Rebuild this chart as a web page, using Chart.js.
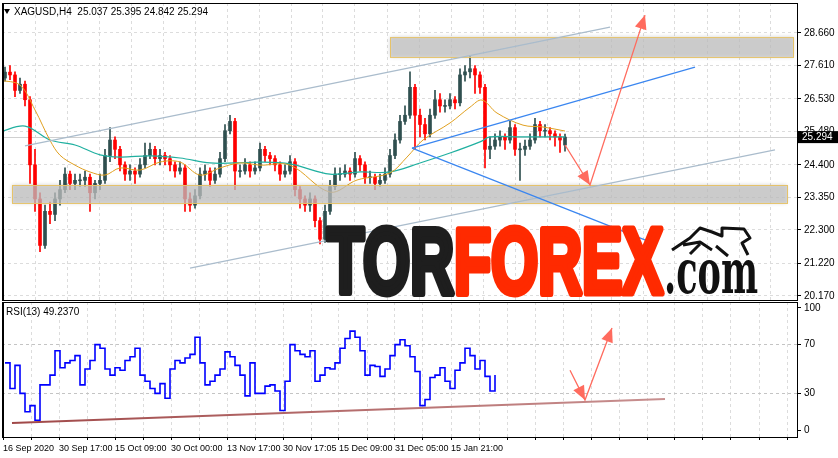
<!DOCTYPE html>
<html><head><meta charset="utf-8">
<script src="https://cdn.jsdelivr.net/npm/chart.js@4.4.1/dist/chart.umd.min.js"></script>
<style>
html,body{margin:0;padding:0;background:#fff;width:838px;height:458px;overflow:hidden}
canvas{position:absolute;left:0}
#c1{top:0}#c2{top:301px}
</style></head><body>
<canvas id="c1" width="838" height="301"></canvas>
<canvas id="c2" width="838" height="157"></canvas>
<script>
// ---- data (bar index i = one H4 sample) ----
const closes=[27.39,27.30,26.80,27.00,26.50,24.40,23.30,21.80,22.90,22.80,
23.30,23.60,24.10,23.80,23.90,23.90,24.00,23.50,23.80,23.90,
24.70,25.20,24.90,24.40,24.10,24.20,24.10,24.40,24.70,24.90,
24.60,24.70,24.60,24.40,24.20,24.30,23.30,23.10,23.40,24.10,
24.20,23.90,24.10,24.60,25.50,25.80,24.20,24.20,24.40,24.20,
24.30,24.90,24.70,24.60,24.40,24.10,24.20,24.50,23.60,23.30,
23.10,23.30,22.60,22.00,22.90,23.70,24.10,24.10,24.20,24.10,
24.60,24.40,24.00,24.00,23.80,23.90,24.10,24.70,25.20,25.80,
26.00,26.90,26.00,25.70,25.40,26.00,26.50,26.30,26.30,26.50,
26.40,27.30,27.40,27.50,27.30,26.90,24.90,25.00,25.20,25.30,
25.20,25.60,24.90,24.90,25.00,25.20,25.70,25.50,25.50,25.40,25.30,25.20,25.294];
const opens=[27.20,27.39,27.30,26.80,27.00,26.50,24.40,23.30,21.80,22.90,
22.80,23.30,23.60,24.10,23.80,23.90,23.90,24.00,23.50,23.80,
23.90,24.70,25.20,24.90,24.40,24.10,24.20,24.10,24.40,24.70,
24.90,24.60,24.70,24.60,24.40,24.20,24.30,23.30,23.10,23.40,
24.10,24.20,23.90,24.10,24.60,25.50,25.80,24.20,24.20,24.40,
24.20,24.30,24.90,24.70,24.60,24.40,24.10,24.20,24.50,23.60,
23.30,23.10,23.30,22.60,22.00,22.90,23.70,24.10,24.10,24.20,
24.10,24.60,24.40,24.00,24.00,23.80,23.90,24.10,24.70,25.20,
25.80,26.00,26.90,26.00,25.70,25.40,26.00,26.50,26.30,26.30,
26.50,26.40,27.30,27.40,27.50,27.30,26.90,24.90,25.00,25.20,
25.30,25.20,25.60,24.90,24.90,25.00,25.20,25.70,25.50,25.50,25.40,25.30,25.037];
const highs=[27.55,27.60,27.40,27.20,27.10,26.60,24.90,23.50,23.10,23.20,
23.50,23.90,24.30,24.20,24.10,24.10,24.20,24.10,23.90,24.10,
24.90,25.60,25.30,25.00,24.50,24.40,24.30,24.60,25.10,25.10,
25.00,24.90,24.80,24.70,24.50,24.50,24.40,23.50,23.60,24.30,
24.40,24.30,24.30,24.80,25.70,26.00,25.90,24.40,24.60,24.50,
24.50,25.10,25.00,24.80,24.70,24.50,24.40,24.70,24.60,23.70,
23.40,23.50,23.40,22.70,23.10,23.90,24.30,24.30,24.40,24.30,
24.80,24.70,24.50,24.20,24.10,24.10,24.30,24.90,25.40,26.00,
26.30,27.40,27.00,26.20,25.90,26.20,26.80,26.70,26.50,26.70,
26.60,27.50,27.60,27.90,27.60,27.40,27.00,25.30,25.40,25.50,
25.40,25.80,25.70,25.10,25.20,25.40,25.90,25.80,25.70,25.60,25.50,25.40,25.395];
const lows=[27.10,27.15,26.60,26.70,26.30,23.80,22.90,21.60,21.70,22.50,
22.60,23.10,23.50,23.60,23.60,23.70,23.70,22.90,23.30,23.60,
23.80,24.50,24.60,24.20,23.90,23.90,23.80,24.00,24.30,24.60,
24.40,24.40,24.40,24.20,24.00,24.10,22.90,22.90,23.00,23.30,
23.90,23.70,23.80,24.00,24.50,25.40,23.60,24.00,24.10,24.00,
24.10,24.20,24.50,24.40,24.20,23.90,24.00,24.10,23.40,23.00,
22.90,22.90,22.40,21.85,21.90,22.80,23.60,23.90,24.00,23.90,
24.00,24.20,23.80,23.80,23.60,23.70,23.80,24.00,24.60,25.10,
25.70,25.90,24.90,25.30,25.20,25.30,25.90,26.10,26.10,26.20,
26.20,26.30,27.10,27.20,26.70,26.70,24.30,24.60,24.90,25.00,
24.90,25.10,24.70,23.90,24.70,24.90,25.10,25.30,25.30,25.20,25.00,24.80,24.842];
// moving averages (bar index, price)
const maFastIdx=[-1,3,6,9,11,14,17,20,23,27,31,35,39,43,47,51,57,65,70.4,77,80.4,83.6,89,93,95.4,98.4,103.6,107.6,112];
const maFastVal=[27.13,26.97,26.17,25.19,24.71,24.39,24.17,24.07,24.30,24.23,24.49,24.49,24.07,24.30,24.46,24.39,24.39,23.52,23.91,24.14,24.65,25.20,25.75,26.26,26.49,26.07,25.68,25.62,25.49];
const maSlowIdx=[-1,4,9,14,19,23,29,35,41,46,51,57,65,71,77,83,89,95,97,103,112];
const maSlowVal=[25.46,25.65,25.20,25.04,24.72,24.65,24.69,24.62,24.46,24.46,24.49,24.43,24.10,24.17,24.17,24.46,24.78,25.14,25.30,25.30,25.30];
// RSI(13) samples
const rsi=[55,34,53,30,15,20,8,37,37,45,65,51,55,57,61,37,50,57,70,67,
50,45,51,49,57,60,67,45,40,34,30,38,26,50,57,55,59,62,76,55,
37,40,45,50,64,60,53,45,28,55,30,30,36,37,32,16,40,70,65,62,
60,65,40,45,51,50,55,67,75,81,76,65,45,53,52,44,50,61,70,74,
69,60,48,20,25,43,45,51,40,34,49,55,67,61,50,57,44,32,45];
const priceTicks=[20.170,21.220,22.300,23.350,24.400,25.480,26.530,27.610,28.660];
const rsiTicks=[0,30,70,100];
const xLabels=['16 Sep 2020','30 Sep 17:00','15 Oct 09:00','30 Oct 00:00','13 Nov 17:00','30 Nov 17:05','15 Dec 09:00','31 Dec 05:00','15 Jan 21:00'];
const lastPrice=25.294;

const UP='#2f4f4f', DN='#ff0000';
const FONT='"Liberation Sans"';
const pxIdx=p=>p/5-1;

const wick=[],body=[],col=[];
closes.forEach((c,i)=>{const o=opens[i];
 wick.push({x:i,y:[lows[i],highs[i]]});
 body.push({x:i,y:o===c?[o-0.015,o+0.015]:[o,c]});
 col.push(c>=o?UP:DN);});

function arrow(ctx,pts,color){
 ctx.save();ctx.strokeStyle=color;ctx.fillStyle=color;ctx.lineWidth=1.3;
 ctx.beginPath();ctx.moveTo(pts[0][0],pts[0][1]);
 for(let i=1;i<pts.length;i++)ctx.lineTo(pts[i][0],pts[i][1]);ctx.stroke();
 const drawHead=(a,b)=>{const ang=Math.atan2(b[1]-a[1],b[0]-a[0]);const L=14,W=6;
  ctx.beginPath();ctx.moveTo(b[0],b[1]);
  ctx.lineTo(b[0]-L*Math.cos(ang)+W*Math.sin(ang),b[1]-L*Math.sin(ang)-W*Math.cos(ang));
  ctx.lineTo(b[0]-L*Math.cos(ang)-W*Math.sin(ang),b[1]-L*Math.sin(ang)+W*Math.cos(ang));ctx.closePath();ctx.fill();};
 for(let i=1;i<pts.length;i++)drawHead(pts[i-1],pts[i]);
 ctx.restore();
}

const mainPlug={id:'mainPlug',
 beforeDatasetsDraw(ch){const {ctx,scales:{y}}=ch;const Y=v=>y.getPixelForValue(v);
  ctx.save();ctx.strokeStyle='#d0d0d0';ctx.lineWidth=1;ctx.beginPath();ctx.moveTo(ch.chartArea.left,Math.round(Y(lastPrice))+0.5);ctx.lineTo(ch.chartArea.right,Math.round(Y(lastPrice))+0.5);ctx.stroke();ctx.restore();},
 afterDatasetsDraw(ch){const {ctx,scales:{x,y},chartArea:a}=ch;const X=v=>x.getPixelForValue(v),Y=v=>y.getPixelForValue(v);
  ctx.save();
  [[77,157.6,28.52,27.88],[1.4,156.4,23.75,23.17]].forEach(z=>{
   ctx.shadowColor='rgba(0,0,0,0.25)';ctx.shadowBlur=4;
   ctx.fillStyle='rgba(200,200,200,0.72)';ctx.fillRect(X(z[0]),Y(z[2]),X(z[1])-X(z[0]),Y(z[3])-Y(z[2]));
   ctx.shadowBlur=0;ctx.strokeStyle='#e6c36a';ctx.lineWidth=1;ctx.strokeRect(X(z[0])+0.5,Y(z[2])+0.5,X(z[1])-X(z[0]),Y(z[3])-Y(z[2]));});
  const line=(a1,b1,a2,b2,c,w)=>{ctx.strokeStyle=c;ctx.lineWidth=w;ctx.beginPath();ctx.moveTo(X(a1),Y(b1));ctx.lineTo(X(a2),Y(b2));ctx.stroke();};
  line(4,25.01,121,28.84,'#aabccc',1.2);
  line(37,21.07,154,24.88,'#aabccc',1.2);
  line(81.4,24.94,138,27.55,'#3a86f0',1.2);
  line(81.4,24.94,130,21.85,'#3a86f0',1.2);
  arrow(ctx,[[X(112),Y(25.04)],[X(117),Y(23.75)],[X(128),Y(29.23)]],'#ff6b5e');
  ctx.save();ctx.font='900 92px "Liberation Sans"';
  const w=ctx.measureText('TORFOREX').width,sx=336/w,wt=ctx.measureText('TOR').width;
  ctx.translate(327,293);ctx.scale(sx,1);ctx.textBaseline='alphabetic';ctx.lineJoin='round';ctx.lineWidth=7;
  ctx.fillStyle='#1e1e1e';ctx.strokeStyle='#1e1e1e';ctx.fillText('TOR',0,0);ctx.strokeText('TOR',0,0);
  ctx.fillStyle='#ff2a00';ctx.strokeStyle='#ff2a00';ctx.fillText('FOREX',wt,0);ctx.strokeText('FOREX',wt,0);
  ctx.restore();
  ctx.save();ctx.font='bold 62px "DejaVu Serif"';const w2=ctx.measureText('.com').width;
  ctx.translate(664,293);ctx.scale(94/w2,1);ctx.fillStyle='#111';ctx.fillText('.com',0,0);ctx.restore();
  ctx.save();ctx.strokeStyle='#111';ctx.lineWidth=3;ctx.lineJoin='round';ctx.beginPath();
  ctx.moveTo(672,250);ctx.lineTo(690,238);ctx.lineTo(700,228);ctx.lineTo(712,232);ctx.lineTo(722,236);ctx.lineTo(722,228);ctx.lineTo(744,229);ctx.lineTo(750,238);ctx.lineTo(742,243);ctx.lineTo(748,255);ctx.moveTo(700,244);ctx.lineTo(690,254);ctx.moveTo(716,246);ctx.lineTo(728,256);ctx.moveTo(683,245);ctx.lineTo(700,242);ctx.lineTo(712,250);ctx.stroke();ctx.restore();
  ctx.fillStyle='#000';ctx.font='10px '+FONT;ctx.textBaseline='middle';ctx.fillText('XAGUSD,H4  25.037 25.395 24.842 25.294',14,12);
  ctx.beginPath();ctx.moveTo(4,9);ctx.lineTo(10,9);ctx.lineTo(7,14);ctx.closePath();ctx.fill();
  ctx.strokeStyle='#000';ctx.lineWidth=1;ctx.strokeRect(a.left+0.5,a.top+0.5,a.right-a.left,a.bottom-a.top);
  ctx.fillRect(a.left,a.top,2,a.bottom-a.top);
  const yy=Y(lastPrice);ctx.fillStyle='#000';ctx.fillRect(a.right+1,yy-6,41,12);
  ctx.fillStyle='#fff';ctx.font='10px '+FONT;ctx.textBaseline='middle';ctx.fillText(lastPrice.toFixed(3),a.right+5,yy);
  ctx.restore();}};

const rsiPlug={id:'rsiPlug',afterDatasetsDraw(ch){const {ctx,scales:{x,y},chartArea:a}=ch;const X=v=>x.getPixelForValue(v),Y=v=>y.getPixelForValue(v);
  ctx.save();
  const g=ctx.createLinearGradient(X(1.4),0,X(132),0);g.addColorStop(0,'#a04848');g.addColorStop(1,'#c89090');
  ctx.strokeStyle=g;ctx.lineWidth=2;ctx.beginPath();ctx.moveTo(X(1.4),Y(5.7));ctx.lineTo(X(132),Y(25.4));ctx.stroke();
  arrow(ctx,[[X(113),Y(49)],[X(116),Y(24.6)],[X(121.4),Y(83.6)]],'#ff6b5e');
  ctx.fillStyle='#000';ctx.font='10px '+FONT;ctx.textBaseline='middle';ctx.fillText('RSI(13) 49.2370',6,11);
  ctx.strokeStyle='#000';ctx.lineWidth=1;ctx.strokeRect(a.left+0.5,a.top+0.5,a.right-a.left,a.bottom-a.top);
  ctx.fillRect(a.left,a.top,2,a.bottom-a.top);
  ctx.restore();}};

const fitY=s=>{s.width=41;s.paddingTop=0;s.paddingBottom=0;};
const fitX=h=>s=>{s.height=h;s.paddingLeft=0;s.paddingRight=0;};
const GRID='#dcdcdc';
new Chart(document.getElementById('c1'),{type:'bar',
 data:{datasets:[
  {type:'line',data:maFastIdx.map((v,i)=>({x:v,y:maFastVal[i]})),borderColor:'#e0a020',borderWidth:1,pointRadius:0,tension:0.35,order:0},
  {type:'line',data:maSlowIdx.map((v,i)=>({x:v,y:maSlowVal[i]})),borderColor:'#20b0a0',borderWidth:1.2,pointRadius:0,tension:0.35,order:0},
  {data:body,backgroundColor:col,barThickness:3,grouped:false,order:1},
  {data:wick,backgroundColor:col,barThickness:1,grouped:false,order:2}]},
 options:{responsive:false,animation:false,devicePixelRatio:1,
  layout:{padding:{top:3,bottom:1,left:2,right:0}},
  plugins:{legend:{display:false},tooltip:{enabled:false}},
  scales:{
   x:{type:'linear',offset:false,min:pxIdx(2),max:pxIdx(797),
    afterBuildTicks:s=>{const t=[];for(let p=35;p<797;p+=32)t.push({value:pxIdx(p)});s.ticks=t;},
    ticks:{display:false},border:{display:false,dash:[3,3]},grid:{color:GRID,drawTicks:false,offset:false},
    afterFit:fitX(0)},
   y:{position:'right',min:20.04,max:29.62,afterFit:fitY,
    afterBuildTicks:s=>{s.ticks=priceTicks.map(v=>({value:v}));},
    ticks:{callback:v=>v.toFixed(3),color:'#000',font:{family:'Liberation Sans',size:10},padding:3},
    border:{color:'#000',dash:[3,3]},grid:{color:GRID,tickLength:4,tickColor:'#000',tickBorderDash:[]}}}},
 plugins:[mainPlug]});

new Chart(document.getElementById('c2'),{type:'line',
 data:{datasets:[{data:rsi.map((v,i)=>({x:i,y:v})),borderColor:'#0000ff',borderWidth:1.6,pointRadius:0,stepped:true}]},
 options:{responsive:false,animation:false,devicePixelRatio:1,
  layout:{padding:{top:1,bottom:0,left:2,right:0}},
  plugins:{legend:{display:false},tooltip:{enabled:false}},
  scales:{
   x:{type:'linear',min:pxIdx(2),max:pxIdx(797),
    afterBuildTicks:s=>{const t=[];for(let p=31;p<797;p+=28)t.push({value:pxIdx(p)});s.ticks=[{value:pxIdx(3)}].concat(t);},
    afterFit:fitX(21),
    ticks:{autoSkip:false,maxRotation:0,minRotation:0,align:'start',color:'#000',font:{family:'Liberation Sans',size:9},padding:3,
     callback:function(v,i){return i%2===0?(xLabels[i/2]||''):'';}},
    border:{color:'#000',dash:[3,3]},grid:{color:GRID,drawTicks:true,tickLength:3,tickColor:'#000',tickBorderDash:[]}},
   y:{position:'right',min:-5.7,max:104.9,afterFit:fitY,
    afterBuildTicks:s=>{s.ticks=rsiTicks.map(v=>({value:v}));},
    ticks:{color:'#000',font:{family:'Liberation Sans',size:10},padding:3},
    border:{color:'#000',dash:[3,3]},grid:{color:c=>(c.tick&&(c.tick.value===30||c.tick.value===70))?'#c4c4c4':'rgba(0,0,0,0)',tickLength:4,tickColor:'#000',tickBorderDash:[]}}}},
 plugins:[rsiPlug]});
</script></body></html>
